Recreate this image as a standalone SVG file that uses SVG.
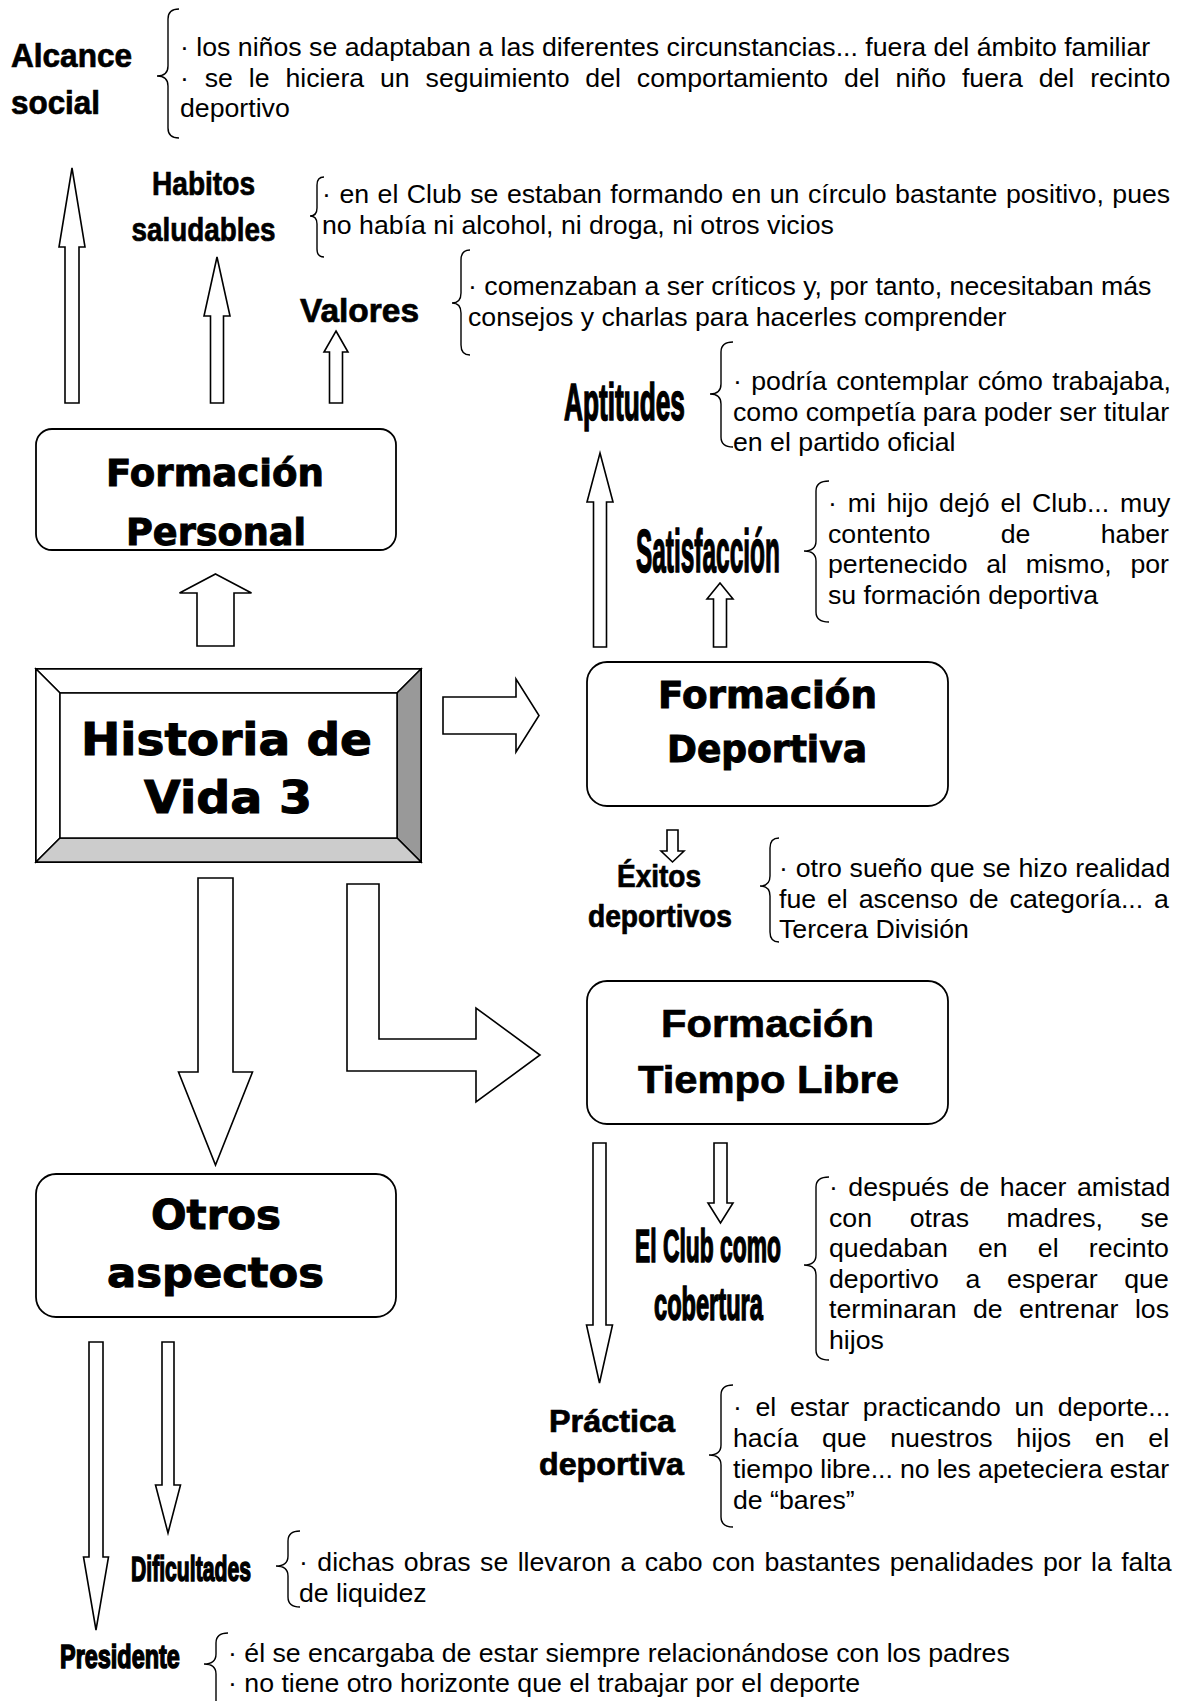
<svg xmlns="http://www.w3.org/2000/svg" width="1183" height="1701" viewBox="0 0 1183 1701">
<style>
.t{font-family:"Liberation Sans",Arial,sans-serif;font-size:26.7px;fill:#000}
.lb{font-family:"Liberation Sans",Arial,sans-serif;font-weight:bold;fill:#000;stroke:#000;stroke-width:0.7px}
.cd{font-family:"Liberation Sans",Arial,sans-serif;font-weight:bold;fill:#000;stroke:#000;stroke-width:1.6px}
.bx{font-family:"DejaVu Sans","Liberation Sans",sans-serif;font-weight:bold;fill:#000;stroke:#000;stroke-width:1px}
.ar{fill:#fff;stroke:#000;stroke-width:1.6;stroke-linejoin:miter}
.br{fill:none;stroke:#000;stroke-width:1.4}
.box{fill:#fff;stroke:#000;stroke-width:1.8}
</style>
<rect width="1183" height="1701" fill="#fff"/>

<g id="connectors">
  <polygon class="ar" points="72,168 85,247 79,247 79,403 65,403 65,247 59,247"/>
  <polygon class="ar" points="217,257 230,316 223.5,316 223.5,403 210.5,403 210.5,316 204,316"/>
  <polygon class="ar" points="336,331 348,352 342.5,352 342.5,403 329.5,403 329.5,352 324,352"/>
  <polygon class="ar" points="215.5,574 251.5,593 234,593 234,646 197,646 197,593 179.5,593"/>
  <polygon class="ar" points="600,453 613,502 606.5,502 606.5,647 593.5,647 593.5,502 587,502"/>
  <polygon class="ar" points="720,583 733,599 726.5,599 726.5,647 713.5,647 713.5,599 707,599"/>
  <polygon class="ar" points="443,697 516,697 516,679 539,715.5 516,752 516,734 443,734"/>
  <polygon class="ar" points="667,830 678,830 678,851 684,851 672.5,862 661,851 667,851"/>
  <polygon class="ar" points="198,878 233,878 233,1072 252.5,1072 215.5,1165 178.5,1072 198,1072"/>
  <polygon class="ar" points="347,884 379,884 379,1039 476,1039 476,1008 540,1055 476,1102 476,1071 347,1071"/>
  <polygon class="ar" points="593,1143 606,1143 606,1325 612.5,1325 599.5,1383 586.5,1325 593,1325"/>
  <polygon class="ar" points="714,1143 727,1143 727,1203 733,1203 720.5,1223 708,1203 714,1203"/>
  <polygon class="ar" points="89,1342 103,1342 103,1557 108.5,1557 96,1630 83.5,1557 89,1557"/>
  <polygon class="ar" points="162,1342 174,1342 174,1485 180.5,1485 168,1533 155.5,1485 162,1485"/>
</g>

<g id="node-historia">
  <rect x="36" y="669" width="385" height="193" fill="#fff" stroke="#000" stroke-width="2"/>
  <polygon points="36,669 421,669 397,693 60,693" fill="#fff" stroke="#000" stroke-width="1.5"/>
  <polygon points="36,669 60,693 60,838 36,862" fill="#fff" stroke="#000" stroke-width="1.5"/>
  <polygon points="421,669 421,862 397,838 397,693" fill="#999" stroke="#000" stroke-width="1.5"/>
  <polygon points="36,862 60,838 397,838 421,862" fill="#ccc" stroke="#000" stroke-width="1.5"/>
  <rect x="60" y="693" width="337" height="145" fill="#fff" stroke="#000" stroke-width="1.5"/>
  <text class="bx" x="81" y="755" font-size="44" textLength="291" lengthAdjust="spacingAndGlyphs">Historia de</text>
  <text class="bx" x="144" y="813" font-size="44" textLength="168" lengthAdjust="spacingAndGlyphs">Vida 3</text>
</g>

<g id="node-formacion-personal">
  <rect class="box" x="36" y="429" width="360" height="121" rx="16"/>
  <text class="bx" x="106" y="486" font-size="38" textLength="218" lengthAdjust="spacingAndGlyphs">Formación</text>
  <text class="bx" x="126" y="545" font-size="38" textLength="180" lengthAdjust="spacingAndGlyphs">Personal</text>
</g>

<g id="node-formacion-deportiva">
  <rect class="box" x="587" y="662" width="361" height="144" rx="20"/>
  <text class="bx" x="658" y="708" font-size="38" textLength="219" lengthAdjust="spacingAndGlyphs">Formación</text>
  <text class="bx" x="667" y="762" font-size="38" textLength="200" lengthAdjust="spacingAndGlyphs">Deportiva</text>
</g>

<g id="node-formacion-tiempo-libre">
  <rect class="box" x="587" y="981" width="361" height="143" rx="20"/>
  <text class="lb" x="661" y="1037" font-size="39" textLength="213" lengthAdjust="spacingAndGlyphs">Formación</text>
  <text class="lb" x="638" y="1093" font-size="39" textLength="261" lengthAdjust="spacingAndGlyphs">Tiempo Libre</text>
</g>

<g id="node-otros-aspectos">
  <rect class="box" x="36" y="1174" width="360" height="143" rx="20"/>
  <text class="bx" x="151" y="1229" font-size="40" textLength="130" lengthAdjust="spacingAndGlyphs">Otros</text>
  <text class="bx" x="107" y="1287" font-size="40" textLength="217" lengthAdjust="spacingAndGlyphs">aspectos</text>
</g>

<g id="node-alcance-social">
  <text class="lb" x="11" y="67" font-size="33" textLength="121" lengthAdjust="spacingAndGlyphs">Alcance</text>
  <text class="lb" x="11" y="114" font-size="33" textLength="89" lengthAdjust="spacingAndGlyphs">social</text>
  <path class="br" d="M179,9 Q168,9 168,19 V66 Q168,76 157,76 Q168,76 168,86 V128 Q168,138 179,138"/>
  <text class="t" x="180" y="56">· los niños se adaptaban a las diferentes circunstancias... fuera del ámbito familiar</text>
  <text class="t" x="180" y="86.5" style="word-spacing:8.47px">· se le hiciera un seguimiento del comportamiento del niño fuera del recinto</text>
  <text class="t" x="180" y="117">deportivo</text>
</g>

<g id="node-habitos">
  <text class="lb" x="152" y="195" font-size="33" textLength="103" lengthAdjust="spacingAndGlyphs">Habitos</text>
  <text class="lb" x="131.5" y="241" font-size="33" textLength="144" lengthAdjust="spacingAndGlyphs">saludables</text>
  <path class="br" d="M324,177 Q317,177 317,185 V208 Q317,216 310,216 Q317,216 317,224 V249 Q317,257 324,257"/>
  <text class="t" x="322" y="203" style="word-spacing:1.08px">· en el Club se estaban formando en un círculo bastante positivo, pues</text>
  <text class="t" x="322" y="233.5">no había ni alcohol, ni droga, ni otros vicios</text>
</g>

<g id="node-valores">
  <text class="lb" x="300" y="322" font-size="33" textLength="119" lengthAdjust="spacingAndGlyphs">Valores</text>
  <path class="br" d="M470,250 Q461,250 461,260 V293 Q461,303 452,303 Q461,303 461,313 V345 Q461,355 470,355"/>
  <text class="t" x="468" y="295">· comenzaban a ser críticos y, por tanto, necesitaban más</text>
  <text class="t" x="468" y="325.5">consejos y charlas para hacerles comprender</text>
</g>

<g id="node-aptitudes">
  <text class="cd" transform="translate(564,420) scale(0.5046,1)" font-size="52">Aptitudes</text>
  <path class="br" d="M733,342 Q721,342 721,352 V384 Q721,394 710,394 Q721,394 721,404 V437 Q721,447 733,447"/>
  <text class="t" x="733" y="390" style="word-spacing:1.95px">· podría contemplar cómo trabajaba,</text>
  <text class="t" x="733" y="420.5">como competía para poder ser titular</text>
  <text class="t" x="733" y="451">en el partido oficial</text>
</g>

<g id="node-satisfaccion">
  <text class="cd" transform="translate(636,572) scale(0.394,1)" font-size="62">Satisfacción</text>
  <path class="br" d="M829,481 Q816,481 816,491 V541 Q816,551 804,551 Q816,551 816,561 V612 Q816,622 829,622"/>
  <text class="t" x="828" y="512" style="word-spacing:3.42px">· mi hijo dejó el Club... muy</text>
  <text class="t" x="828" y="542.5" style="word-spacing:62.9px">contento de haber</text>
  <text class="t" x="828" y="573" style="word-spacing:11.3px">pertenecido al mismo, por</text>
  <text class="t" x="828" y="603.5">su formación deportiva</text>
</g>

<g id="node-exitos">
  <text class="lb" x="617" y="887" font-size="31" textLength="84" lengthAdjust="spacingAndGlyphs">Éxitos</text>
  <text class="lb" x="588" y="927" font-size="31" textLength="144" lengthAdjust="spacingAndGlyphs">deportivos</text>
  <path class="br" d="M779,838 Q770,838 770,848 V876 Q770,886 760,886 Q770,886 770,896 V932 Q770,942 779,942"/>
  <text class="t" x="779" y="877" style="word-spacing:0.43px">· otro sueño que se hizo realidad</text>
  <text class="t" x="779" y="907.5" style="word-spacing:3.5px">fue el ascenso de categoría... a</text>
  <text class="t" x="779" y="938">Tercera División</text>
</g>

<g id="node-club-cobertura">
  <text class="cd" transform="translate(635,1262) scale(0.4967,1)" font-size="46">El Club como</text>
  <text class="cd" transform="translate(654,1320) scale(0.5137,1)" font-size="46">cobertura</text>
  <path class="br" d="M829,1177 Q816,1177 816,1187 V1255 Q816,1265 804,1265 Q816,1265 816,1275 V1350 Q816,1360 829,1360"/>
  <text class="t" x="829" y="1196" style="word-spacing:3px">· después de hacer amistad</text>
  <text class="t" x="829" y="1226.5" style="word-spacing:30.2px">con otras madres, se</text>
  <text class="t" x="829" y="1257" style="word-spacing:22.8px">quedaban en el recinto</text>
  <text class="t" x="829" y="1287.5" style="word-spacing:19.3px">deportivo a esperar que</text>
  <text class="t" x="829" y="1318" style="word-spacing:9px">terminaran de entrenar los</text>
  <text class="t" x="829" y="1348.5">hijos</text>
</g>

<g id="node-practica">
  <text class="lb" x="549" y="1432" font-size="31" textLength="126" lengthAdjust="spacingAndGlyphs">Práctica</text>
  <text class="lb" x="539" y="1475" font-size="31" textLength="145" lengthAdjust="spacingAndGlyphs">deportiva</text>
  <path class="br" d="M733,1385 Q721,1385 721,1395 V1445 Q721,1455 709,1455 Q721,1455 721,1465 V1517 Q721,1527 733,1527"/>
  <text class="t" x="733" y="1416" style="word-spacing:6.2px">· el estar practicando un deporte...</text>
  <text class="t" x="733" y="1447" style="word-spacing:16.3px">hacía que nuestros hijos en el</text>
  <text class="t" x="733" y="1478" style="word-spacing:-0.3px">tiempo libre... no les apeteciera estar</text>
  <text class="t" x="733" y="1509">de “bares”</text>
</g>

<g id="node-dificultades">
  <text class="cd" transform="translate(131,1581) scale(0.588,1)" font-size="36">Dificultades</text>
  <path class="br" d="M300,1531 Q288,1531 288,1541 V1556 Q288,1566 276,1566 Q288,1566 288,1576 V1597 Q288,1607 300,1607"/>
  <text class="t" x="299" y="1571" style="word-spacing:2px">· dichas obras se llevaron a cabo con bastantes penalidades por la falta</text>
  <text class="t" x="299" y="1601.5">de liquidez</text>
</g>

<g id="node-presidente">
  <text class="cd" transform="translate(60,1668) scale(0.69,1)" font-size="34">Presidente</text>
  <path class="br" d="M228,1633 Q216,1633 216,1643 V1654 Q216,1664 204,1664 Q216,1664 216,1674 V1705 Q216,1715 228,1715"/>
  <text class="t" x="228" y="1662">· él se encargaba de estar siempre relacionándose con los padres</text>
  <text class="t" x="228" y="1692">· no tiene otro horizonte que el trabajar por el deporte</text>
</g>
</svg>
